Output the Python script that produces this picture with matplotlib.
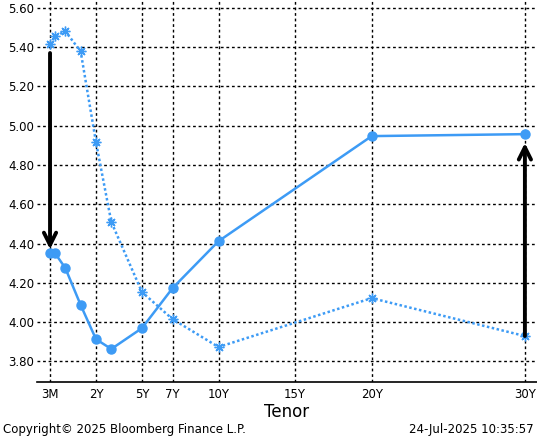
import numpy as np
import matplotlib.pyplot as plt
from matplotlib.scale import FuncScale

# tenors in years
tenor_years = [0.25, 1 / 3, 0.5, 1, 2, 3, 5, 7, 10, 20, 30]
current = [4.351, 4.350, 4.275, 4.087, 3.913, 3.863, 3.969, 4.173, 4.412, 4.947, 4.957]
previous = [5.415, 5.455, 5.481, 5.378, 4.916, 4.510, 4.153, 4.015, 3.873, 4.122, 3.929]

tick_years = [0.25, 2, 5, 7, 10, 15, 20, 30]
tick_labels = ["3M", "2Y", "5Y", "7Y", "10Y", "15Y", "20Y", "30Y"]
y_ticks = [3.80, 4.00, 4.20, 4.40, 4.60, 4.80, 5.00, 5.20, 5.40, 5.60]

# bloomberg style piecewise tenor axis: short end stretched
knot_years = [-2.0, 0.25, 0.5, 1, 2, 40]
knot_pos = [-2.25, 0, 1, 2, 3, 41]


def fwd(x):
    return np.interp(x, knot_years, knot_pos)


def inv(p):
    return np.interp(p, knot_pos, knot_years)


blue = "#3d9bf5"

fig = plt.figure(figsize=(5.37, 4.38), dpi=100)
ax = fig.add_axes([37 / 537, 1 - 382 / 438, 500 / 537, 382 / 438])
ax.set_xscale(FuncScale(ax, (fwd, inv)))

ax.plot(tenor_years, current, color=blue, lw=1.8, marker="o", ms=6.5, zorder=4)
ax.plot(tenor_years, previous, color=blue, lw=1.8, ls=(0, (1, 1)),
        marker=(8, 2, 0), ms=7, mew=1.0, zorder=3)

# arrows showing the move from previous to current curve
ax.annotate("", xy=(tenor_years[0], current[0] + 0.02),
            xytext=(tenor_years[0], previous[0] - 0.045),
            arrowprops=dict(arrowstyle="->", lw=2.8, color="black",
                            mutation_scale=22, shrinkA=0, shrinkB=0), zorder=5)
ax.annotate("", xy=(tenor_years[-1], current[-1] - 0.045),
            xytext=(tenor_years[-1], previous[-1]),
            arrowprops=dict(arrowstyle="->", lw=2.8, color="black",
                            mutation_scale=22, shrinkA=0, shrinkB=0), zorder=5)

ax.set_xlim(inv(-0.85), inv(31.79))
ax.set_ylim(3.695, 5.64)
ax.set_xticks(tick_years)
ax.set_xticklabels(tick_labels)
ax.set_yticks(y_ticks)
ax.set_yticklabels(["%.2f" % v for v in y_ticks])
ax.minorticks_off()
ax.tick_params(length=0, labelsize=8.5, pad=4)
ax.tick_params(axis="y", pad=2)

ax.grid(True, color="black", ls=(0, (2, 2)), lw=1.0)
for s in ("top", "right", "left"):
    ax.spines[s].set_visible(False)
ax.spines["bottom"].set_linewidth(1.2)

ax.set_xlabel("Tenor", fontsize=12, labelpad=2)

fig.text(3 / 537, 1 - 430 / 438, "Copyright\u00a9 2025 Bloomberg Finance L.P.",
         fontsize=8.5, va="center", ha="left")
fig.text(534 / 537, 1 - 430 / 438, "24-Jul-2025 10:35:57",
         fontsize=8.5, va="center", ha="right")

fig.savefig("out.png", dpi=100)
